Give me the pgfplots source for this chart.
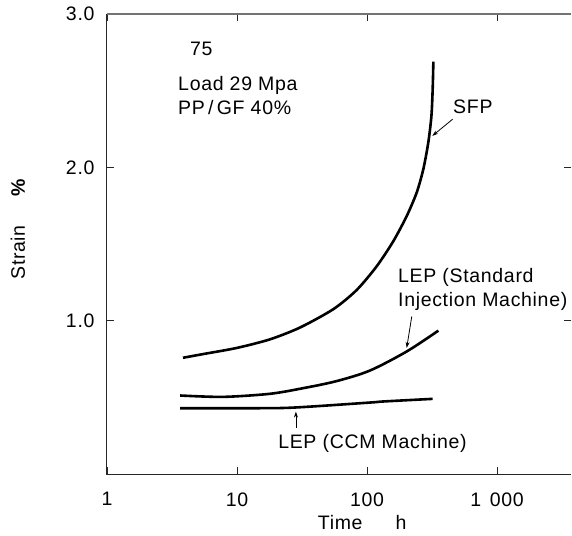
\documentclass[border=0pt]{standalone}
\usepackage{fontspec}
\setmainfont{Liberation Sans}[LetterSpace=3.5]
\usepackage{pgfplots}
\pgfplotsset{compat=1.18}
\usetikzlibrary{arrows.meta}
\begin{document}
\begin{tikzpicture}[font=\fontsize{19.5}{22}\selectfont]
\begin{axis}[
  scale only axis, width=464pt, height=460pt,
  xmode=log, xmin=1, xmax=3709, ymin=0, ymax=3,
  axis line style={draw=none},
  xtick={1,10,100,1000}, xticklabels={1,10,100,1\hspace{0.45em}000},
  ytick={1,2,3}, yticklabels={1.0,2.0,3.0},
  xminorticks=false, yminorticks=false,
  major tick length=7pt,
  tick style={black!85, line width=0.9pt},
  xticklabel style={yshift=-15pt},
  yticklabel style={xshift=-9pt},
  clip=false,
]
\draw[black!85, line width=1pt] (rel axis cs:0,1) -- (rel axis cs:0,0) -- (rel axis cs:1,0);
\draw[black!55, line width=1.2pt] (rel axis cs:0,1) -- (rel axis cs:1,1);
\coordinate (BL) at (rel axis cs:0,0);
\coordinate (TR) at (rel axis cs:1,1);

% SFP
\addplot[black, line width=2.6pt, smooth, tension=0.45] coordinates {
(3.84,0.758) (5.48,0.782) (9.95,0.822) (17.9,0.878) (30.5,0.955) (55.1,1.075)
(83.3,1.200) (118.8,1.355) (159.3,1.518) (202,1.682) (241,1.835) (271,1.987)
(296,2.161) (313,2.335) (320,2.510) (324,2.690)};
% LEP standard
\addplot[black, line width=2.6pt, smooth, tension=0.5] coordinates {
(3.65,0.512) (7.8,0.503) (17.9,0.523) (32.4,0.560) (58.5,0.606) (105.5,0.675)
(202,0.799) (354,0.935)};
% LEP CCM
\addplot[black, line width=2.6pt, smooth, tension=0.5] coordinates {
(3.65,0.429) (12.6,0.429) (27,0.433) (105.5,0.466) (133.6,0.473) (320,0.490)};

\node[anchor=west, inner sep=0pt] at (axis cs:4.35,2.771) {75};
\node[anchor=west, inner sep=0pt] at (axis cs:3.52,2.536) {Load 29 Mpa};
\node[anchor=west, inner sep=0pt] at (axis cs:3.52,2.392) {PP\,/\,GF 40\%};

\node[anchor=west, inner sep=0pt] at (axis cs:459,2.392) {SFP};
\draw[-{Stealth[length=6pt,width=4pt]}, line width=0.8pt] (axis cs:456,2.314) -- (axis cs:318,2.205);

\node[anchor=west, inner sep=0pt] at (axis cs:173,1.281) {LEP (Standard};
\node[anchor=west, inner sep=0pt] at (axis cs:173,1.126) {Injection Machine)};
\draw[-{Stealth[length=6pt,width=4pt]}, line width=0.8pt] (axis cs:221,1.028) -- (axis cs:202,0.822);

\node[anchor=west, inner sep=0pt] at (axis cs:20.7,0.2) {LEP (CCM Machine)};
\draw[-{Stealth[length=6pt,width=4pt]}, line width=0.8pt] (axis cs:28.4,0.299) -- (axis cs:28.4,0.407);

\node[inner sep=0pt, yshift=-49pt] at (rel axis cs:0.55,0) {Time\hspace{33pt}h};
\node[rotate=90, inner sep=0pt] at ([xshift=-89pt]rel axis cs:0,0.5326) {Strain\hspace{28pt}\textbf{\%}};
\end{axis}
\pgfresetboundingbox
\useasboundingbox ([xshift=-107pt,yshift=-61pt]BL) rectangle ([xshift=1pt,yshift=14pt]TR);
\end{tikzpicture}
\end{document}
